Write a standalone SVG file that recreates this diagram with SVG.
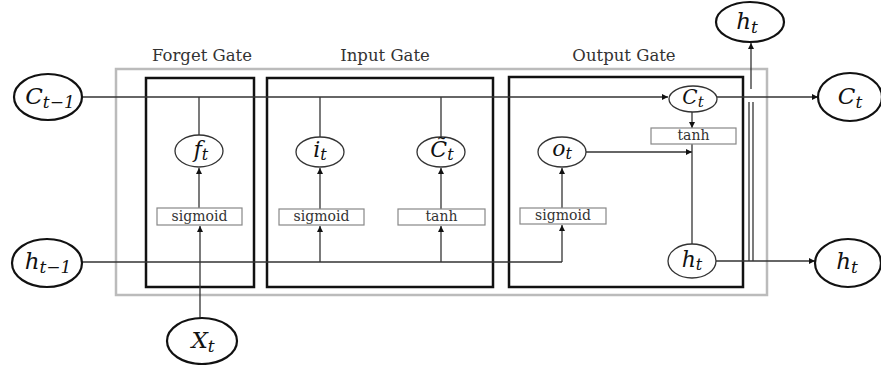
<svg xmlns="http://www.w3.org/2000/svg" width="881" height="365" viewBox="0 0 881 365">
<defs>
<marker id="ah" viewBox="0 0 10 10" refX="10" refY="5" markerWidth="6" markerHeight="6" markerUnits="userSpaceOnUse" orient="auto">
<path d="M0,0 L10,5 L0,10 z" fill="#111"/>
</marker>
<style>
.title{font-family:"DejaVu Serif",serif;font-size:16.5px;fill:#333;text-anchor:middle}
.box{fill:#fff;stroke:#888;stroke-width:1.2}
.boxt{font-family:"DejaVu Serif",serif;font-size:14px;fill:#333;text-anchor:middle}
.gate{fill:none;stroke:#111;stroke-width:2.5}
.outer{fill:none;stroke:#bbb;stroke-width:2.5}
.io{fill:#fff;stroke:#111;stroke-width:2.2}
.in{fill:#fff;stroke:#333;stroke-width:1.3}
.m{font-family:"DejaVu Serif",serif;font-style:italic;fill:#111;text-anchor:middle}
.c{fill:none;stroke:#333;stroke-width:1.3}
.a{marker-end:url(#ah)}
</style>
</defs>
<g id="frame">
<rect class="outer" x="116" y="69" width="651" height="226"/>
</g>
<g id="forget-gate">
<rect class="gate" x="146" y="78" width="108" height="209"/>
<text class="title" x="202" y="61">Forget Gate</text>
</g>
<g id="input-gate">
<rect class="gate" x="267" y="78" width="226" height="209"/>
<text class="title" x="385" y="61">Input Gate</text>
</g>
<g id="output-gate">
<rect class="gate" x="509" y="77" width="234" height="210"/>
<text class="title" x="624" y="61">Output Gate</text>
</g>
<g id="connectors">
<path class="c a" d="M82,97 H668"/>
<path class="c" d="M199,97 V135"/>
<path class="c" d="M320,97 V137"/>
<path class="c" d="M441,97 V137"/>
<path class="c a" d="M199,208 V168"/>
<path class="c a" d="M320,209 V168"/>
<path class="c a" d="M441,209 V168"/>
<path class="c" d="M82,262 H562"/>
<path class="c a" d="M562,262 V225"/>
<path class="c a" d="M320,262 V226"/>
<path class="c a" d="M441,262 V226"/>
<path class="c a" d="M200,318 V226"/>
<path class="c a" d="M562,208 V168"/>
<path class="c a" d="M586,152 H692"/>
<path class="c a" d="M692,112 V128"/>
<path class="c" d="M692,144 V244"/>
<path class="c a" d="M717,97 H818"/>
<path class="c a" d="M716,261 H815"/>
<path class="c" d="M749,261 V102"/>
<path class="c" d="M753,261 V102"/>
<path class="c a" d="M751,89 V43"/>
</g>
<g id="C_t-1">
<ellipse class="io" cx="48" cy="97" rx="34" ry="23"/>
<text class="m" x="50" y="104" font-size="23">C<tspan font-size="17" dy="4">t−1</tspan></text>
</g>
<g id="h_t-1">
<ellipse class="io" cx="47" cy="263" rx="35" ry="24"/>
<text class="m" x="48" y="269" font-size="23">h<tspan font-size="17" dy="4">t−1</tspan></text>
</g>
<g id="X_t">
<ellipse class="io" cx="202" cy="341" rx="35" ry="23"/>
<text class="m" x="203" y="348" font-size="23">X<tspan font-size="17" dy="4">t</tspan></text>
</g>
<g id="h_t-top">
<ellipse class="io" cx="750" cy="22" rx="34" ry="20"/>
<text class="m" x="747" y="29" font-size="23">h<tspan font-size="17" dy="4">t</tspan></text>
</g>
<g id="C_t-out">
<ellipse class="io" cx="850" cy="97" rx="32" ry="24"/>
<text class="m" x="850" y="104" font-size="23">C<tspan font-size="17" dy="4">t</tspan></text>
</g>
<g id="h_t-out">
<ellipse class="io" cx="848" cy="263" rx="33" ry="24"/>
<text class="m" x="847" y="269" font-size="23">h<tspan font-size="17" dy="4">t</tspan></text>
</g>
<g id="f_t">
<ellipse class="in" cx="199" cy="151" rx="24" ry="16"/>
<text class="m" x="201" y="157" font-size="22">f<tspan font-size="16" dy="3">t</tspan></text>
</g>
<g id="i_t">
<ellipse class="in" cx="320" cy="152" rx="24" ry="15"/>
<text class="m" x="320" y="157" font-size="22">i<tspan font-size="16" dy="3">t</tspan></text>
</g>
<g id="Ctilde_t">
<ellipse class="in" cx="441" cy="152" rx="24" ry="15"/>
<text class="m" x="442" y="157" font-size="22">C̃<tspan font-size="16" dy="3">t</tspan></text>
</g>
<g id="o_t">
<ellipse class="in" cx="562" cy="152" rx="24" ry="15"/>
<text class="m" x="562" y="156" font-size="22">o<tspan font-size="16" dy="3">t</tspan></text>
</g>
<g id="C_t">
<ellipse class="in" cx="693" cy="99" rx="24" ry="13"/>
<text class="m" x="693" y="104" font-size="20">C<tspan font-size="15" dy="3">t</tspan></text>
</g>
<g id="h_t">
<ellipse class="in" cx="692" cy="261" rx="24" ry="17"/>
<text class="m" x="692" y="267" font-size="22">h<tspan font-size="16" dy="3">t</tspan></text>
</g>
<g id="sigmoid-f">
<rect class="box" x="157" y="208" width="85" height="17"/>
<text class="boxt" x="199.5" y="221">sigmoid</text>
</g>
<g id="sigmoid-i">
<rect class="box" x="279" y="209" width="85" height="16"/>
<text class="boxt" x="321.5" y="221">sigmoid</text>
</g>
<g id="tanh-i">
<rect class="box" x="398" y="209" width="87" height="16"/>
<text class="boxt" x="441.5" y="221">tanh</text>
</g>
<g id="sigmoid-o">
<rect class="box" x="520" y="208" width="86" height="16"/>
<text class="boxt" x="563" y="220">sigmoid</text>
</g>
<g id="tanh-o">
<rect class="box" x="651" y="128" width="85" height="16"/>
<text class="boxt" x="693.5" y="140" font-size="12.5">tanh</text>
</g>
</svg>
